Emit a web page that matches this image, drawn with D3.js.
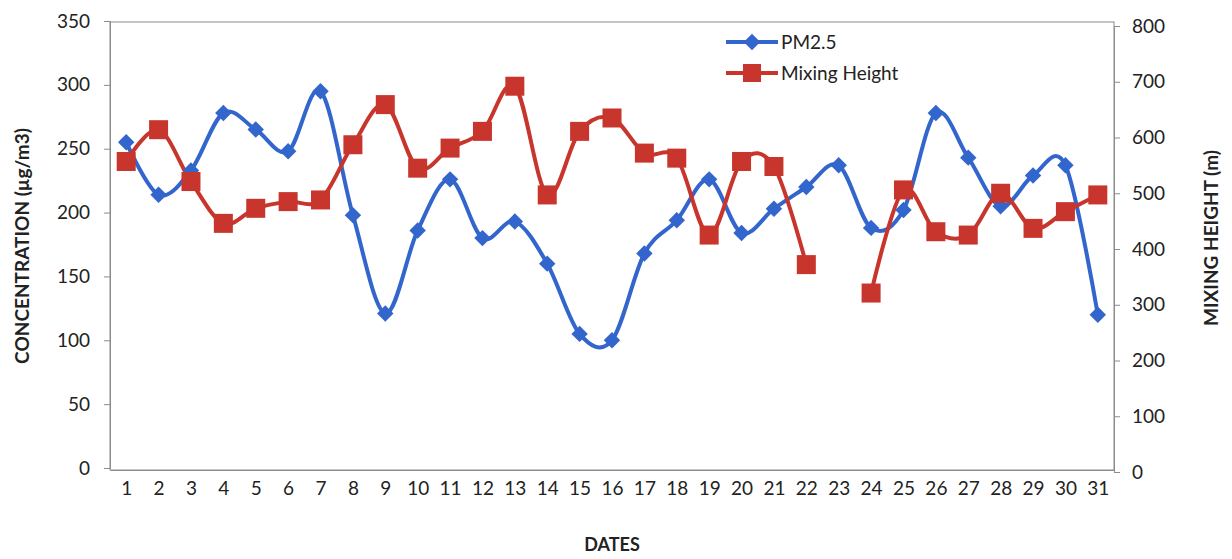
<!DOCTYPE html>
<html><head><meta charset="utf-8">
<script src="https://cdn.jsdelivr.net/npm/d3@7"></script>
<style>body{margin:0;background:#fff}svg{display:block}</style>
</head><body>
<svg id="chart" width="1232" height="559"></svg>
<script>
const dates = d3.range(1, 32);
const pm25 = [255,214,233,278,265,248,295,198,121,186,226,180,193,160,105,100,168,194,226,184,203,220,237,188,202,278,243,205,229,237,120];
const mixingHeight = [557,614,521,446,473,485,488,587,659,545,581,611,692,497,611,635,572,563,425,557,548,372,null,321,506,431,425,500,437,467,497];
const leftTicks = [0,50,100,150,200,250,300,350];
const rightTicks = [0,100,200,300,400,500,600,700,800];
const seriesNames = ["PM2.5","Mixing Height"];

const svg = d3.select("#chart");
const font = "Lato, 'Open Sans', sans-serif";
const L = 110, R = 1114, T = 22, B = 470;
const blue = "#3366CC", red = "#C8352C", axisCol = "#8c8c8c";

const x = d3.scalePoint().domain(dates).range([L, R]).padding(0.5);
const yL = d3.scaleLinear().domain([0, 350]).range([468, 21]);
const yR = d3.scaleLinear().domain([0, 800]).range([472, 26]);

// frame
svg.append("rect").attr("x", L).attr("y", T).attr("width", R - L).attr("height", B - T)
  .attr("fill", "none").attr("stroke", axisCol).attr("stroke-width", 1);

const gl = svg.append("g").attr("transform", `translate(${L},0)`)
  .call(d3.axisLeft(yL).tickValues(leftTicks).tickSize(6).tickPadding(14));
const gr = svg.append("g").attr("transform", `translate(${R},0)`)
  .call(d3.axisRight(yR).tickValues(rightTicks).tickSize(6).tickPadding(12));
const gx = svg.append("g").attr("transform", `translate(0,${B})`)
  .call(d3.axisBottom(x).tickSize(0).tickPadding(12));
[gl, gr, gx].forEach(g => {
  g.selectAll(".domain").attr("stroke", axisCol);
  g.selectAll(".tick line").attr("stroke", axisCol);
  g.selectAll("text").attr("font-family", font).attr("font-size", 19).attr("fill", "#222");
});

// titles
svg.append("text").attr("transform", `translate(${L + (R - L) / 2},551)`).attr("text-anchor", "middle")
  .attr("font-family", font).attr("font-weight", "bold").attr("font-size", 18).attr("fill", "#222").text("DATES");
svg.append("text").attr("transform", `translate(29,${(T + B) / 2}) rotate(-90)`).attr("text-anchor", "middle")
  .attr("font-family", font).attr("font-weight", "bold").attr("font-size", 19).attr("fill", "#222").text("CONCENTRATION (µg/m3)");
svg.append("text").attr("transform", `translate(1218,${(T + B) / 2 - 8}) rotate(-90)`).attr("text-anchor", "middle")
  .attr("font-family", font).attr("font-weight", "bold").attr("font-size", 19).attr("fill", "#222").text("MIXING HEIGHT (m)");

const curve = d3.curveCatmullRom.alpha(0);

// PM2.5
const linePM = d3.line().x((d, i) => x(dates[i])).y(d => yL(d)).curve(curve);
svg.append("path").datum(pm25).attr("d", linePM).attr("fill", "none").attr("stroke", blue).attr("stroke-width", 4);

// Mixing height
const lineMH = d3.line().defined(d => d != null).x((d, i) => x(dates[i])).y(d => yR(d)).curve(curve);
svg.append("path").datum(mixingHeight).attr("d", lineMH).attr("fill", "none").attr("stroke", red).attr("stroke-width", 4);

const diamond = d3.symbol().type(d3.symbolSquare).size(135);
svg.append("g").selectAll("path").data(pm25).join("path")
  .attr("d", diamond).attr("transform", (d, i) => `translate(${x(dates[i])},${yL(d)}) rotate(45)`)
  .attr("fill", blue);

const sq = 19;
svg.append("g").selectAll("rect").data(mixingHeight.map((v, i) => ({v, d: dates[i]})).filter(o => o.v != null)).join("rect")
  .attr("x", o => x(o.d) - sq / 2).attr("y", o => yR(o.v) - sq / 2).attr("width", sq).attr("height", sq)
  .attr("fill", red);

// legend
const lg = svg.append("g");
const lx1 = 726, lx2 = 778;
[[42, blue, "d"], [73, red, "s"]].forEach(([yy, c, t], i) => {
  lg.append("line").attr("x1", lx1).attr("x2", lx2).attr("y1", yy).attr("y2", yy).attr("stroke", c).attr("stroke-width", 4);
  if (t === "d") lg.append("path").attr("d", diamond).attr("transform", `translate(${(lx1 + lx2) / 2},${yy}) rotate(45)`).attr("fill", c);
  else lg.append("rect").attr("x", (lx1 + lx2) / 2 - 9).attr("y", yy - 9).attr("width", 18).attr("height", 18).attr("fill", c);
  lg.append("text").attr("x", lx2 + 3).attr("y", yy + 7).attr("font-family", font).attr("font-size", 19).attr("fill", "#222").text(seriesNames[i]);
});
</script>
</body></html>
